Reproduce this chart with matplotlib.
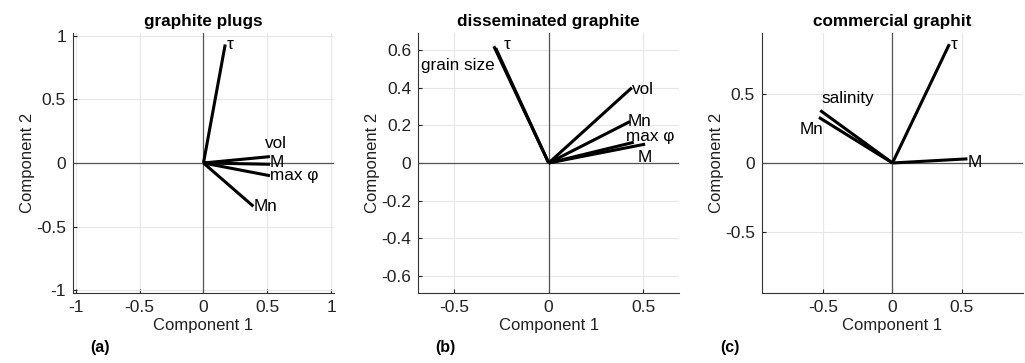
import numpy as np
import matplotlib
matplotlib.use("Agg")
import matplotlib.pyplot as plt

plt.rcParams['font.family'] = ['Liberation Sans', 'DejaVu Sans']

# loadings (component 1, component 2) per variable
titles = ['graphite plugs', 'disseminated graphite', 'commercial graphit']
panel_tags = ['(a)', '(b)', '(c)']
limits = [1.02, 0.69, 0.94]

vars_a = ['τ', 'vol', 'M', 'max φ', 'Mn']
pc1_a = [0.17, 0.52, 0.52, 0.52, 0.39]
pc2_a = [0.93, 0.05, -0.01, -0.10, -0.34]

vars_b = ['τ', 'grain size', 'vol', 'Mn', 'max φ', 'M']
pc1_b = [-0.29, -0.28, 0.44, 0.43, 0.45, 0.51]
pc2_b = [0.62, 0.61, 0.40, 0.22, 0.11, 0.10]

vars_c = ['τ', 'M', 'salinity', 'Mn']
pc1_c = [0.41, 0.54, -0.52, -0.53]
pc2_c = [0.86, 0.03, 0.38, 0.33]

# label anchor for each variable (x, y, ha)
lab_a = [(0.18, 0.93, 'left'), (0.48, 0.15, 'left'),
         (0.52, 0.005, 'left'), (0.52, -0.10, 'left'),
         (0.39, -0.34, 'left')]
lab_b = [(-0.24, 0.63, 'left'), (-0.285, 0.52, 'right'),
         (0.44, 0.39, 'left'), (0.42, 0.22, 'left'),
         (0.41, 0.14, 'left'), (0.47, 0.03, 'left')]
lab_c = [(0.42, 0.86, 'left'), (0.54, 0.0, 'left'),
         (-0.51, 0.47, 'left'), (-0.50, 0.24, 'right')]

yticks = [[-1, -0.5, 0, 0.5, 1], [-0.6, -0.4, -0.2, 0, 0.2, 0.4, 0.6], [-0.5, 0, 0.5]]
xticks = [[-1, -0.5, 0, 0.5, 1], [-0.5, 0, 0.5], [-0.5, 0, 0.5]]

data = [(vars_a, pc1_a, pc2_a, lab_a), (vars_b, pc1_b, pc2_b, lab_b),
        (vars_c, pc1_c, pc2_c, lab_c)]

fig = plt.figure(figsize=(10.25, 3.63), dpi=100)
lefts = [0.0712, 0.408, 0.7434]
tag_x = [0.088, 0.425, 0.703]

for i in range(3):
    ax = fig.add_axes([lefts[i], 0.193, 0.2546, 0.716])
    names, x, y, labs = data[i]
    lim = limits[i]
    ax.axhline(0, color='#555555', lw=0.9, zorder=1)
    ax.axvline(0, color='#555555', lw=0.9, zorder=1)
    for n, px, py, lb in zip(names, x, y, labs):
        ax.plot([0, px], [0, py], color='black', lw=2.2, solid_capstyle='butt', zorder=3)
        ax.text(lb[0], lb[1], n, ha=lb[2], va='center', fontsize=12.3, zorder=4, clip_on=False)
    ax.set_xlim(-lim, lim)
    ax.set_ylim(-lim, lim)
    ax.set_xticks(xticks[i])
    ax.set_yticks(yticks[i])
    ax.set_xticklabels([f'{t:g}' for t in xticks[i]])
    ax.set_yticklabels([f'{t:g}' for t in yticks[i]])
    ax.grid(True, color='#e6e6e6', lw=0.8)
    ax.set_axisbelow(True)
    for s in ['top', 'right']:
        ax.spines[s].set_visible(False)
    for s in ['left', 'bottom']:
        ax.spines[s].set_color('#333333')
        ax.spines[s].set_linewidth(0.8)
    ax.tick_params(direction='in', length=3, labelsize=12.5, colors='#222222', pad=5)
    ax.set_xlabel('Component 1', fontsize=12, color='#222222', labelpad=2)
    ax.set_ylabel('Component 2', fontsize=12, color='#222222', labelpad=1)
    ax.set_title(titles[i], fontsize=12.3, fontweight='bold', pad=5)
    fig.text(tag_x[i], 0.03, panel_tags[i], fontsize=11.5, fontweight='bold')

fig.savefig('out.png', dpi=100)
